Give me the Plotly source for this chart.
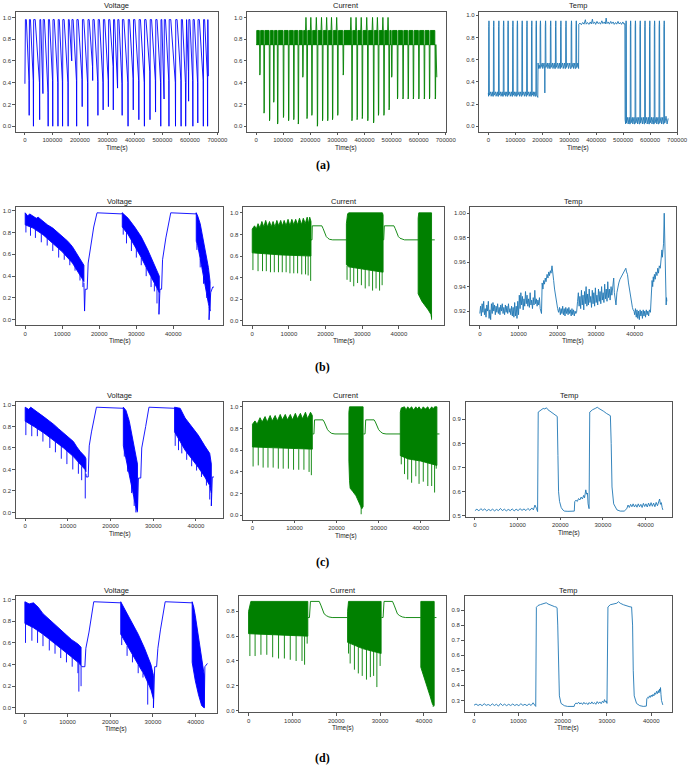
import plotly.graph_objects as go

W, H = 698, 769
C_V, C_C, C_T = "#0000ff", "#008000", "#1f77b4"

# ======================= DATA =======================
# ---------- row (a) : Voltage ----------
va_min_t = [15500, 31000, 53600, 65500, 84500, 101200, 120200, 136900, 157100, 170200,
            188100, 208300, 228600, 246400, 265500, 284500, 303600, 321400, 336900, 353600,
            375000, 394000, 414300, 434500, 454800, 475000, 494000, 506000, 523800, 547600,
            567900, 584500, 595200, 610700, 628600, 648800, 664300]
va_min_v = [0.10, 0.00, 0.06, 0.30, 0.00, 0.00, 0.00, 0.00, 0.00, 0.60,
            0.00, 0.18, 0.00, 0.42, 0.10, 0.15, 0.18, 0.15, 0.35, 0.10,
            0.00, 0.15, 0.06, 0.00, 0.06, 0.13, 0.00, 0.25, 0.00, 0.00,
            0.00, 0.00, 0.23, 0.00, 0.03, 0.00, 0.00]
va_knee_v = [0.42, 0.42, 0.40, 0.45, 0.31, 0.42, 0.40, 0.41, 0.40, 0.62,
             0.42, 0.43, 0.40, 0.55, 0.41, 0.40, 0.42, 0.55, 0.45, 0.39,
             0.40, 0.44, 0.42, 0.40, 0.50, 0.42, 0.40, 0.45, 0.42, 0.40,
             0.42, 0.40, 0.50, 0.42, 0.40, 0.42, 0.45]
va_first = (0, 0.39)
va_last = (667000, 0.46)
va_top = 0.98

# ---------- row (a) : Current ----------
ca_min_t = [14300, 29800, 50100, 65600, 79900, 101400, 120400, 139500, 156200, 172900,
            188400, 206300, 226600, 245700, 264700, 282600, 301700, 322000, 354200, 373300,
            392300, 412600, 434100, 452000, 472200, 491300, 500900, 522300, 542600, 561700,
            580800, 601000, 621300, 640400, 661800]
ca_min_v = [0.47, 0.12, 0.05, 0.22, 0.02, 0.08, 0.05, 0.06, 0.02, 0.45,
            0.07, 0.10, 0.00, 0.05, 0.05, 0.06, 0.10, 0.47, 0.05, 0.06,
            0.07, 0.05, 0.03, 0.10, 0.10, 0.15, 0.45, 0.25, 0.25, 0.25,
            0.25, 0.25, 0.25, 0.25, 0.25]
ca_peak_v = [0.88, 0.88, 0.88, 0.88, 0.88, 0.88, 0.88, 0.88, 0.88, 0.88,
             1.0, 1.0, 1.0, 1.0, 1.0, 1.0, 1.0, 0.88, 1.0, 1.0,
             1.0, 1.0, 1.0, 1.0, 1.0, 1.0, 0.88, 0.88, 0.88, 0.88,
             0.88, 0.88, 0.88, 0.88, 0.88]
ca_base, ca_band_top = 0.75, 0.88
ca_last = (667000, 0.45)

# ---------- row (a) : Temp ----------
ta_s1_peaks = [2400, 20200, 39100, 56900, 73500, 91300, 107900, 125700, 143500, 161300, 177900]
ta_s2_peaks = [193300, 212300, 231300, 250200, 269200, 288200, 308400, 326200]
ta_s4_peaks = [511000, 527800, 545600, 563400, 581200, 598900, 616700, 634500, 652300]
ta_s1_level = (0.27, 0.31)
ta_s2_level = (0.52, 0.57)
ta_s4_level = (0.02, 0.08)
ta_start = [(0, 0.30)]
ta_join12 = [(181000, 0.26), (183500, 0.26), (184500, 0.57), (186500, 0.52), (189000, 0.55)]
ta_dip = [(209200, 0.52), (209600, 0.30), (210000, 0.52)]
ta_join23 = [(329000, 0.53), (332000, 0.57), (334800, 0.52)]
ta_s3 = [(335600, 0.92), (340000, 0.93), (345000, 0.915), (350000, 0.935), (355000, 0.92),
         (360000, 0.96), (363000, 0.92), (368000, 0.935), (373000, 0.918), (378000, 0.94),
         (382000, 0.922), (386000, 0.965), (389000, 0.925), (394000, 0.94), (398000, 0.918),
         (403000, 0.945), (407000, 0.925), (412000, 0.935), (416000, 0.92), (421000, 0.95),
         (425000, 0.925), (430000, 0.94), (434000, 0.922), (437000, 0.975), (440000, 0.925),
         (445000, 0.94), (449000, 0.92), (454000, 0.945), (458000, 0.925), (463000, 0.94),
         (467000, 0.918), (472000, 0.935), (476000, 0.92), (481000, 0.945), (485000, 0.922),
         (490000, 0.935), (494000, 0.918), (499000, 0.94), (503000, 0.92), (506400, 0.925)]
ta_join34 = [(507300, 0.06), (508500, 0.03)]
ta_end = [(655000, 0.03), (659000, 0.09), (663000, 0.02), (667000, 0.07)]

# ---------- row (b) : Voltage ----------
vb_band1_up = [(0, 0.98), (700, 0.95), (1200, 0.97), (2140, 0.95), (3000, 0.93), (3500, 0.94),
               (4800, 0.90), (6000, 0.87), (7450, 0.84), (8800, 0.80), (10100, 0.77),
               (11500, 0.72), (12760, 0.67), (14000, 0.60), (14970, 0.55), (15860, 0.50)]
vb_band1_lo = [(0, 0.87), (2140, 0.84), (4800, 0.78), (7450, 0.70), (10100, 0.62),
               (12760, 0.52), (14970, 0.40), (15860, 0.35)]
vb_spk1 = [(195, 0.87, 0.80), (1430, 0.85, 0.77), (2760, 0.83, 0.75), (4350, 0.79, 0.71),
           (5950, 0.75, 0.68), (7450, 0.70, 0.63), (9040, 0.65, 0.57), (10550, 0.61, 0.55),
           (12050, 0.55, 0.50), (13470, 0.49, 0.45), (14800, 0.41, 0.36), (15590, 0.37, 0.30)]
vb_line1 = [(15860, 0.34), (16040, 0.08), (16210, 0.28), (16740, 0.28), (17010, 0.52),
            (17630, 0.65), (18510, 0.85), (19400, 0.98), (26040, 0.97), (26220, 0.98)]
vb_band2_up = [(26220, 0.98), (27810, 0.93), (29580, 0.85), (31350, 0.76), (33120, 0.64),
               (34890, 0.50), (36220, 0.40)]
vb_band2_lo = [(26220, 0.85), (27810, 0.78), (29580, 0.68), (31350, 0.57), (33120, 0.45),
               (34890, 0.33), (36220, 0.25)]
vb_spk2 = [(26480, 0.84, 0.78), (27360, 0.80, 0.70), (28690, 0.73, 0.63), (30020, 0.66, 0.57),
           (31350, 0.57, 0.50), (32680, 0.48, 0.40), (34000, 0.39, 0.30), (34890, 0.33, 0.26),
           (35600, 0.29, 0.15), (36130, 0.26, 0.05)]
vb_line2 = [(36130, 0.05), (36400, 0.28), (36840, 0.28), (37100, 0.55), (37990, 0.75),
            (39310, 0.98), (46120, 0.97), (46200, 0.98)]
vb_band3_up = [(46200, 0.98), (46600, 0.95), (47270, 0.88), (47710, 0.80), (48600, 0.66),
               (49480, 0.48), (49930, 0.35)]
vb_band3_lo = [(46200, 0.72), (46600, 0.68), (47710, 0.48), (48600, 0.33), (49480, 0.15),
               (49930, 0.08)]
vb_spk3 = [(46380, 0.70, 0.64), (47270, 0.56, 0.48), (48160, 0.40, 0.33), (49040, 0.24, 0.20),
           (49660, 0.12, 0.0)]
vb_line3 = [(49660, 0.0), (50110, 0.25), (50640, 0.30), (50990, 0.30)]

# ---------- row (b) : Current ----------
cb_band1_up = [(0, 0.85), (630, 0.88), (1100, 0.85), (1580, 0.90), (2100, 0.86), (2630, 0.92),
               (3150, 0.87), (3670, 0.93), (4190, 0.87), (4710, 0.92), (5190, 0.87), (5670, 0.92),
               (6190, 0.87), (6710, 0.93), (7230, 0.88), (7760, 0.93), (8230, 0.88), (8710, 0.93),
               (9230, 0.88), (9760, 0.94), (10280, 0.88), (10800, 0.94), (11320, 0.89),
               (11840, 0.94), (12370, 0.89), (12890, 0.95), (13410, 0.89), (13930, 0.95),
               (14450, 0.90), (14980, 0.96), (15330, 0.90), (15670, 0.96), (16020, 0.92)]
cb_band1_lo = [(0, 0.63), (8000, 0.61), (16020, 0.60)]
cb_spk1 = [(190, 0.63, 0.47), (1580, 0.63, 0.46), (2800, 0.63, 0.46), (3840, 0.62, 0.46),
           (4970, 0.62, 0.45), (6020, 0.62, 0.45), (7150, 0.62, 0.45), (8190, 0.61, 0.45),
           (9240, 0.61, 0.45), (10280, 0.61, 0.44), (11320, 0.61, 0.44), (12370, 0.61, 0.44),
           (13500, 0.61, 0.43), (14540, 0.60, 0.43), (15240, 0.60, 0.42), (15930, 0.60, 0.37)]
cb_line1 = [(16020, 0.75), (16300, 0.75), (16370, 0.88), (18980, 0.88), (19320, 0.855),
            (19760, 0.81), (20190, 0.78), (20630, 0.765), (21060, 0.755), (21930, 0.75),
            (25670, 0.75)]
cb_band2_up = [(25670, 0.90), (26000, 0.99), (26280, 1.0), (35500, 1.0), (35680, 0.98)]
cb_band2_lo = [(25670, 0.52), (26280, 0.50), (30000, 0.48), (35680, 0.45)]
cb_spk2 = [(25850, 0.51, 0.38), (26720, 0.50, 0.36), (27680, 0.50, 0.32), (28720, 0.49, 0.35),
           (29760, 0.48, 0.33), (30810, 0.48, 0.30), (31850, 0.47, 0.32), (32810, 0.47, 0.28),
           (33760, 0.46, 0.30), (34720, 0.46, 0.28), (35420, 0.45, 0.33)]
cb_line2 = [(35680, 0.75), (35850, 0.75), (36020, 0.88), (38630, 0.88), (38980, 0.855),
            (39420, 0.81), (39850, 0.78), (40290, 0.765), (40890, 0.755), (41500, 0.75),
            (45240, 0.75)]
cb_band3_up = [(45240, 0.95), (45410, 1.0), (48890, 1.0)]
cb_band3_lo = [(45240, 0.25), (45680, 0.22), (46280, 0.18), (47150, 0.14), (48020, 0.10),
               (48720, 0.06), (48890, 0.03)]
cb_spk3 = [(48890, 0.05, 0.01)]
cb_line3 = [(48980, 0.75), (49770, 0.75)]

# ---------- row (b) : Temp ----------
tb_series = [
    (0, 0.918), (200, 0.924), (400, 0.916), (600, 0.926), (800, 0.919), (1000, 0.928),
    (1200, 0.917), (1400, 0.922), (1600, 0.915), (1800, 0.925), (2000, 0.92), (2200, 0.928),
    (2400, 0.914), (2600, 0.921), (2800, 0.913), (3000, 0.926), (3200, 0.918), (3400, 0.927),
    (3600, 0.92), (3800, 0.925), (4000, 0.917), (4200, 0.924), (4400, 0.919), (4600, 0.926),
    (4800, 0.918), (5000, 0.923), (5200, 0.917), (5400, 0.925), (5600, 0.92), (5800, 0.926),
    (6000, 0.918), (6200, 0.923), (6400, 0.917), (6600, 0.925), (6800, 0.919), (7000, 0.924),
    (7200, 0.918), (7400, 0.926), (7600, 0.919), (7800, 0.922), (8000, 0.917), (8200, 0.924),
    (8400, 0.916), (8600, 0.923), (8800, 0.915), (9000, 0.927), (9200, 0.916), (9400, 0.924),
    (9600, 0.914), (9800, 0.928), (10000, 0.917), (10200, 0.933), (10400, 0.922),
    (10600, 0.935), (10800, 0.925), (11000, 0.932), (11200, 0.921), (11400, 0.93),
    (11600, 0.924), (11800, 0.936), (12000, 0.926), (12200, 0.933), (12400, 0.924),
    (12600, 0.93), (12800, 0.923), (13000, 0.935), (13200, 0.925), (13400, 0.929),
    (13600, 0.922), (13800, 0.931), (14000, 0.925), (14200, 0.937), (14400, 0.926),
    (14600, 0.93), (14800, 0.924), (15000, 0.929), (15200, 0.925), (15400, 0.931),
    (15600, 0.922), (15800, 0.919), (15930, 0.918), (16100, 0.943), (16300, 0.938),
    (16500, 0.945), (16700, 0.942), (16900, 0.947), (17100, 0.944), (17370, 0.95),
    (17600, 0.947), (17800, 0.952), (18000, 0.949), (18220, 0.953), (18400, 0.951),
    (18645, 0.957), (18800, 0.95), (19070, 0.945), (19300, 0.938), (19490, 0.933),
    (19700, 0.928), (19920, 0.924), (20100, 0.922), (20340, 0.919), (20600, 0.923),
    (20800, 0.917), (21000, 0.922), (21200, 0.918), (21400, 0.924), (21600, 0.917),
    (21800, 0.922), (22000, 0.916), (22200, 0.923), (22400, 0.918), (22600, 0.922),
    (22800, 0.917), (23000, 0.923), (23200, 0.918), (23400, 0.921), (23600, 0.916),
    (23800, 0.922), (24000, 0.917), (24200, 0.921), (24400, 0.916), (24600, 0.92),
    (24800, 0.918), (25000, 0.919), (25250, 0.928), (25450, 0.935), (25650, 0.924),
    (25850, 0.932), (26050, 0.922), (26250, 0.937), (26450, 0.925), (26650, 0.933),
    (26850, 0.921), (27050, 0.936), (27250, 0.926), (27450, 0.94), (27650, 0.924),
    (27850, 0.934), (28050, 0.925), (28250, 0.938), (28450, 0.927), (28650, 0.932),
    (28850, 0.923), (29050, 0.937), (29250, 0.926), (29450, 0.935), (29650, 0.924),
    (29850, 0.939), (30050, 0.927), (30250, 0.933), (30450, 0.925), (30650, 0.938),
    (30850, 0.928), (31050, 0.936), (31250, 0.926), (31450, 0.94), (31650, 0.929),
    (31850, 0.935), (32050, 0.927), (32250, 0.942), (32450, 0.93), (32650, 0.938),
    (32850, 0.928), (33050, 0.944), (33250, 0.931), (33450, 0.938), (33650, 0.929),
    (33900, 0.94), (34100, 0.933), (34350, 0.945), (34580, 0.947), (34750, 0.935),
    (35000, 0.928), (35170, 0.925), (35400, 0.935), (35600, 0.94), (35900, 0.943),
    (36200, 0.946), (36500, 0.948), (36870, 0.95), (37100, 0.952), (37400, 0.954),
    (37710, 0.955), (37900, 0.952), (38140, 0.95), (38400, 0.943), (38700, 0.936),
    (38980, 0.93), (39200, 0.925), (39410, 0.923), (39600, 0.921), (39830, 0.92),
    (40000, 0.917), (40200, 0.922), (40400, 0.915), (40600, 0.921), (40800, 0.914),
    (41000, 0.92), (41200, 0.913), (41400, 0.921), (41600, 0.916), (41800, 0.92),
    (42000, 0.914), (42200, 0.921), (42400, 0.916), (42600, 0.92), (42800, 0.915),
    (43000, 0.921), (43200, 0.917), (43400, 0.92), (43600, 0.916), (43800, 0.921),
    (44070, 0.919), (44300, 0.935), (44490, 0.945), (44650, 0.94), (44800, 0.948),
    (44920, 0.944), (45100, 0.95), (45300, 0.946), (45500, 0.952), (45765, 0.949),
    (45950, 0.955), (46150, 0.951), (46350, 0.957), (46610, 0.955), (46800, 0.962),
    (47035, 0.97), (47150, 0.964), (47290, 0.968), (47450, 0.975), (47630, 1.0),
    (47750, 0.975), (47880, 0.96), (48000, 0.94), (48130, 0.925), (48220, 0.931),
    (48300, 0.928)]

# ---------- row (c) : Voltage ----------
vc_band1_up = [(0, 0.98), (800, 0.96), (1300, 0.98), (2080, 0.96), (3000, 0.93), (4380, 0.89),
               (5500, 0.86), (6690, 0.82), (7800, 0.78), (9000, 0.74), (10100, 0.70),
               (11300, 0.66), (12100, 0.61), (12840, 0.57), (14000, 0.52), (14230, 0.50)]
vc_band1_lo = [(0, 0.85), (2080, 0.80), (4380, 0.74), (6690, 0.67), (9000, 0.60), (11300, 0.52),
               (12840, 0.45), (14000, 0.40), (14230, 0.38)]
vc_spk1 = [(154, 0.85, 0.72), (1540, 0.82, 0.71), (2850, 0.79, 0.71), (4150, 0.75, 0.66),
           (5770, 0.71, 0.60), (7080, 0.66, 0.56), (8460, 0.62, 0.50), (9770, 0.58, 0.45),
           (11150, 0.53, 0.40), (12460, 0.47, 0.36), (13230, 0.43, 0.30), (14070, 0.40, 0.13)]
vc_line1 = [(14230, 0.36), (14300, 0.33), (14760, 0.33), (15000, 0.62), (15530, 0.75),
            (16690, 0.98), (22990, 0.97)]
vc_band2_up = [(22990, 0.98), (23610, 0.95), (24380, 0.85), (25150, 0.70), (25920, 0.55),
               (26300, 0.45)]
vc_band2_lo = [(22990, 0.62), (23610, 0.50), (24380, 0.35), (25150, 0.20), (25920, 0.05),
               (26300, 0.01)]
vc_spk2 = [(23220, 0.60, 0.52), (23990, 0.45, 0.38), (24920, 0.26, 0.18), (25530, 0.14, 0.06),
           (25920, 0.06, 0.0), (26220, 0.03, 0.0)]
vc_line2 = [(26300, 0.01), (26530, 0.32), (27070, 0.32), (27300, 0.60), (28220, 0.80),
            (28990, 0.98), (34990, 0.97)]
vc_band3_up = [(34990, 0.98), (36300, 0.97), (37450, 0.88), (38990, 0.80), (40530, 0.72),
               (42060, 0.62), (43220, 0.55), (43600, 0.45)]
vc_band3_lo = [(34990, 0.75), (36300, 0.66), (37450, 0.58), (38990, 0.50), (40530, 0.42),
               (42060, 0.33), (43220, 0.25), (43600, 0.18)]
vc_spk3 = [(35140, 0.75, 0.62), (35910, 0.69, 0.58), (36680, 0.64, 0.55), (37830, 0.56, 0.49),
           (38990, 0.50, 0.43), (40140, 0.44, 0.39), (41290, 0.38, 0.33), (42450, 0.31, 0.25),
           (43220, 0.25, 0.12), (43600, 0.18, 0.06)]
vc_line3 = [(43600, 0.06), (43830, 0.33), (44220, 0.33)]

# ---------- row (c) : Current ----------
cc_band1_up = [(0, 0.84), (600, 0.87), (1100, 0.84), (1800, 0.90), (2300, 0.86), (3000, 0.91),
               (3500, 0.86), (4200, 0.92), (4700, 0.87), (5400, 0.92), (5900, 0.87), (6600, 0.93),
               (7100, 0.88), (7800, 0.93), (8300, 0.88), (9000, 0.93), (9500, 0.88), (10200, 0.94),
               (10700, 0.89), (11400, 0.94), (11900, 0.89), (12600, 0.95), (13100, 0.89),
               (13800, 0.95), (14230, 0.92)]
cc_band1_lo = [(0, 0.63), (7000, 0.62), (14230, 0.61)]
cc_spk1 = [(154, 0.63, 0.45), (1380, 0.63, 0.46), (2540, 0.63, 0.44), (3690, 0.62, 0.44),
           (4920, 0.62, 0.44), (6150, 0.62, 0.43), (7310, 0.62, 0.43), (8540, 0.62, 0.43),
           (9770, 0.62, 0.42), (11000, 0.61, 0.42), (12230, 0.61, 0.42), (13460, 0.61, 0.40),
           (14000, 0.61, 0.37)]
cc_line1 = [(14300, 0.75), (14610, 0.75), (14760, 0.88), (16760, 0.88), (17070, 0.86),
            (17460, 0.82), (17840, 0.79), (18300, 0.77), (18840, 0.755), (19610, 0.75),
            (22920, 0.75)]
cc_band2_up = [(22920, 0.95), (23070, 1.0), (26300, 1.0)]
cc_band2_lo = [(22920, 0.50), (23070, 0.32), (23220, 0.25), (23840, 0.22), (24610, 0.18),
               (25380, 0.12), (25990, 0.06), (26300, 0.08)]
cc_spk2 = [(25840, 0.08, 0.01)]
cc_line2 = [(26380, 0.75), (26760, 0.75), (26920, 0.88), (28910, 0.88), (29220, 0.86),
            (29610, 0.82), (29990, 0.79), (30450, 0.77), (30990, 0.755), (31760, 0.75),
            (35140, 0.75)]
cc_band3_up = [(35140, 0.95), (35370, 0.99), (36140, 1.0), (36500, 0.97), (36910, 1.0),
               (37300, 0.98), (37830, 1.0), (38300, 0.97), (38830, 1.0), (39200, 0.98),
               (39600, 1.0), (40100, 0.97), (40600, 1.0), (41100, 0.98), (41680, 1.0),
               (42100, 0.97), (42600, 1.0), (43000, 0.98), (43290, 1.0), (43840, 1.0)]
cc_band3_lo = [(35140, 0.55), (37000, 0.52), (40000, 0.50), (43840, 0.46)]
cc_spk3 = [(35370, 0.55, 0.47), (36140, 0.54, 0.38), (36910, 0.53, 0.33), (37830, 0.52, 0.30),
           (38830, 0.52, 0.36), (39600, 0.51, 0.29), (40600, 0.50, 0.31), (41680, 0.49, 0.27),
           (42600, 0.48, 0.27), (43290, 0.47, 0.21), (43680, 0.47, 0.43)]
cc_line3 = [(43840, 0.75), (44450, 0.75)]

# ---------- row (c) : Temp ----------
tc_series = [
    (0, 0.522), (460, 0.528), (920, 0.521), (1380, 0.53), (1840, 0.523), (2300, 0.529),
    (2760, 0.521), (3220, 0.527), (3680, 0.522), (4140, 0.528), (4600, 0.521), (5060, 0.527),
    (5520, 0.522), (5980, 0.531), (6440, 0.522), (6900, 0.528), (7360, 0.521), (7820, 0.527),
    (8280, 0.522), (8740, 0.529), (9200, 0.521), (9660, 0.528), (10120, 0.522), (10580, 0.53),
    (11040, 0.523), (11500, 0.529), (11960, 0.522), (12420, 0.531), (12880, 0.523),
    (13340, 0.533), (13700, 0.525), (14070, 0.545), (14460, 0.53), (14690, 0.518),
    (14840, 0.93), (15200, 0.935), (15600, 0.94), (15990, 0.945), (16400, 0.943),
    (16760, 0.948), (17100, 0.94), (17500, 0.935), (18000, 0.93), (18500, 0.922),
    (19070, 0.915), (19300, 0.912), (19460, 0.75), (19610, 0.60), (19840, 0.56),
    (20220, 0.535), (20600, 0.525), (20990, 0.52), (21800, 0.519), (22600, 0.52),
    (23300, 0.52), (23400, 0.56), (23700, 0.565), (24000, 0.56), (24300, 0.572),
    (24600, 0.566), (24900, 0.578), (25200, 0.57), (25500, 0.585), (25700, 0.575),
    (25990, 0.608), (26200, 0.59), (26380, 0.595), (26530, 0.55), (26760, 0.53),
    (26920, 0.93), (27150, 0.935), (27600, 0.94), (28200, 0.945), (28680, 0.95),
    (29070, 0.945), (29600, 0.94), (30200, 0.933), (30800, 0.925), (31300, 0.92),
    (31760, 0.915), (31950, 0.8), (32140, 0.62), (32530, 0.55), (33000, 0.53),
    (33300, 0.525), (34070, 0.52), (35000, 0.52), (35610, 0.53), (35900, 0.545),
    (36200, 0.535), (36500, 0.548), (36800, 0.538), (37100, 0.55), (37400, 0.537),
    (37700, 0.547), (38000, 0.536), (38300, 0.55), (38600, 0.538), (38900, 0.548),
    (39200, 0.535), (39500, 0.552), (39800, 0.539), (40100, 0.55), (40400, 0.537),
    (40700, 0.553), (41000, 0.54), (41300, 0.555), (41600, 0.54), (41900, 0.553),
    (42200, 0.538), (42500, 0.556), (42800, 0.542), (43100, 0.56), (43300, 0.57),
    (43500, 0.548), (43700, 0.555), (43900, 0.535), (44060, 0.525)]

# ---------- row (d) : Voltage ----------
vd_band1_up = [(0, 0.98), (1000, 0.96), (2010, 0.97), (3120, 0.93), (4240, 0.87), (5300, 0.83),
               (6470, 0.79), (7600, 0.75), (8700, 0.71), (9800, 0.67), (10930, 0.63),
               (12420, 0.59), (13160, 0.56)]
vd_band1_lo = [(0, 0.78), (2010, 0.74), (4240, 0.68), (6470, 0.61), (8700, 0.54), (10930, 0.47),
               (12420, 0.42), (13160, 0.39)]
vd_spk1 = [(149, 0.78, 0.60), (1640, 0.75, 0.62), (2970, 0.72, 0.60), (4240, 0.68, 0.57),
           (5720, 0.63, 0.53), (7060, 0.59, 0.50), (8400, 0.55, 0.46), (9740, 0.51, 0.42),
           (11080, 0.47, 0.38), (12420, 0.42, 0.32), (12640, 0.41, 0.15), (13160, 0.39, 0.20)]
vd_line1 = [(13160, 0.39), (13380, 0.38), (14050, 0.38), (14280, 0.55), (15020, 0.70),
            (16130, 0.98), (22450, 0.97)]
vd_band2_up = [(22450, 0.98), (23570, 0.90), (25060, 0.80), (26540, 0.68), (28030, 0.55),
               (29520, 0.40), (30110, 0.30)]
vd_band2_lo = [(22450, 0.68), (23570, 0.60), (25060, 0.50), (26540, 0.40), (28030, 0.30),
               (29520, 0.17), (30110, 0.08)]
vd_spk2 = [(22680, 0.66, 0.58), (23940, 0.57, 0.48), (25200, 0.49, 0.42), (26540, 0.40, 0.32),
           (27660, 0.32, 0.28), (28770, 0.25, 0.03), (29370, 0.19, 0.17), (30110, 0.08, 0.0)]
vd_line2 = [(30110, 0.0), (30410, 0.38), (30850, 0.38), (31150, 0.55), (31750, 0.72),
            (32860, 0.98), (39180, 0.97)]
vd_band3_up = [(39180, 0.98), (39550, 0.93), (39920, 0.85), (40670, 0.65), (41410, 0.45),
               (42010, 0.30)]
vd_band3_lo = [(39180, 0.42), (39920, 0.25), (40670, 0.12), (41410, 0.02), (42010, 0.0)]
vd_spk3 = []
vd_line3 = [(42010, 0.0), (42160, 0.38), (42750, 0.41)]

# ---------- row (d) : Current ----------
cd_band1_up = [(0, 0.80), (520, 0.88), (13520, 0.88)]
cd_band1_lo = [(0, 0.62), (13520, 0.60)]
cd_spk1 = [(300, 0.62, 0.44), (1490, 0.62, 0.44), (2820, 0.62, 0.45), (4160, 0.62, 0.45),
           (5500, 0.61, 0.43), (6840, 0.61, 0.42), (8170, 0.61, 0.42), (9510, 0.61, 0.41),
           (10850, 0.61, 0.40), (12190, 0.60, 0.40), (12780, 0.60, 0.37), (13370, 0.60, 0.54)]
cd_line1 = [(13520, 0.75), (13890, 0.75), (14120, 0.88), (16120, 0.88), (16490, 0.85),
            (16870, 0.81), (17240, 0.78), (17760, 0.765), (18320, 0.755), (19060, 0.75),
            (22590, 0.75)]
cd_band2_up = [(22590, 0.80), (22810, 0.88), (30240, 0.88)]
cd_band2_lo = [(22590, 0.55), (26000, 0.50), (30240, 0.46)]
cd_spk2 = [(22810, 0.55, 0.46), (23180, 0.55, 0.38), (24150, 0.54, 0.33), (25040, 0.52, 0.30),
           (25930, 0.50, 0.28), (26900, 0.50, 0.25), (27790, 0.49, 0.27), (28530, 0.48, 0.28),
           (29270, 0.47, 0.19), (30020, 0.46, 0.36)]
cd_line2 = [(30310, 0.75), (30690, 0.75), (30910, 0.88), (32840, 0.88), (33210, 0.85),
            (33580, 0.81), (33960, 0.78), (34480, 0.765), (35070, 0.755), (35810, 0.75),
            (39300, 0.75)]
cd_band3_up = [(39300, 0.88), (42350, 0.88)]
cd_band3_lo = [(39300, 0.35), (39900, 0.28), (40640, 0.20), (41390, 0.12), (41980, 0.05),
               (42350, 0.04)]
cd_spk3 = [(42130, 0.05, 0.03)]
cd_line3 = [(42350, 0.75), (42870, 0.75)]

# ---------- row (d) : Temp ----------
td_series = [
    (0, 0.268), (460, 0.276), (920, 0.266), (1380, 0.274), (1840, 0.265), (2300, 0.278),
    (2760, 0.267), (3220, 0.273), (3680, 0.265), (4140, 0.277), (4600, 0.266), (5060, 0.274),
    (5520, 0.262), (5980, 0.279), (6440, 0.266), (6900, 0.275), (7360, 0.265), (7820, 0.274),
    (8280, 0.266), (8740, 0.276), (9200, 0.266), (9660, 0.273), (10120, 0.265), (10580, 0.278),
    (11040, 0.267), (11500, 0.274), (11960, 0.265), (12420, 0.277), (12880, 0.266),
    (13340, 0.284), (13710, 0.268), (13930, 0.26), (14080, 0.918), (14450, 0.93),
    (15000, 0.936), (15560, 0.94), (16000, 0.945), (16300, 0.948), (16700, 0.94),
    (17040, 0.935), (17400, 0.93), (17780, 0.925), (18200, 0.922), (18530, 0.92),
    (18750, 0.915), (18900, 0.80), (19040, 0.50), (19270, 0.33), (19640, 0.28),
    (20380, 0.265), (21100, 0.26), (21860, 0.258), (22600, 0.26), (22750, 0.275),
    (23000, 0.282), (23340, 0.278), (23600, 0.288), (23900, 0.276), (24200, 0.284),
    (24500, 0.273), (24800, 0.287), (25100, 0.276), (25400, 0.283), (25700, 0.272),
    (26000, 0.286), (26300, 0.276), (26600, 0.29), (26900, 0.277), (27200, 0.285),
    (27500, 0.274), (27800, 0.292), (28100, 0.279), (28400, 0.29), (28700, 0.278),
    (29000, 0.295), (29270, 0.285), (29450, 0.305), (29640, 0.29), (29850, 0.296),
    (30010, 0.28), (30230, 0.92), (30750, 0.935), (31500, 0.94), (32230, 0.945),
    (32600, 0.955), (33000, 0.945), (33720, 0.935), (34300, 0.928), (34830, 0.925),
    (35200, 0.921), (35570, 0.92), (35790, 0.80), (35940, 0.50), (36160, 0.33),
    (36680, 0.28), (37420, 0.265), (38200, 0.26), (38900, 0.262), (39000, 0.31),
    (39200, 0.32), (39400, 0.315), (39600, 0.33), (39800, 0.32), (40000, 0.335),
    (40200, 0.325), (40400, 0.34), (40600, 0.33), (40800, 0.35), (41000, 0.34),
    (41200, 0.36), (41400, 0.345), (41600, 0.365), (41750, 0.35), (41870, 0.375),
    (42000, 0.36), (42090, 0.385), (42200, 0.34), (42310, 0.30), (42610, 0.27)]

# ---------- ticks ----------
xt_a = [0, 100000, 200000, 300000, 400000, 500000, 600000, 700000]
xt_a_lbl = ["0", "100000", "200000", "300000", "400000", "500000", "600000", "700000"]
xt_s = [0, 10000, 20000, 30000, 40000]
xt_s_lbl = ["0", "10000", "20000", "30000", "40000"]
yt_01 = [0.0, 0.2, 0.4, 0.6, 0.8, 1.0]
yt_01_lbl = ["0.0", "0.2", "0.4", "0.6", "0.8", "1.0"]
yt_08 = [0.0, 0.2, 0.4, 0.6, 0.8]
yt_08_lbl = ["0.0", "0.2", "0.4", "0.6", "0.8"]
yt_tb = [0.92, 0.94, 0.96, 0.98, 1.00]
yt_tb_lbl = ["0.92", "0.94", "0.96", "0.98", "1.00"]
yt_tc = [0.5, 0.6, 0.7, 0.8, 0.9]
yt_tc_lbl = ["0.5", "0.6", "0.7", "0.8", "0.9"]
yt_td = [0.3, 0.4, 0.5, 0.6, 0.7, 0.8, 0.9]
yt_td_lbl = ["0.3", "0.4", "0.5", "0.6", "0.7", "0.8", "0.9"]
row_labels = ["(a)", "(b)", "(c)", "(d)"]


# ======================= BUILDERS =======================
def unzip(pts):
    return [p[0] for p in pts], [p[1] for p in pts]


def build_va():
    t, v = [va_first[0]], [va_first[1]]
    prev = va_first[0]
    for i, (tm, vm, kn) in enumerate(zip(va_min_t, va_min_v, va_knee_v)):
        rise = prev + (1800 if i == 0 else 900)
        plat = rise + 0.25 * (tm - rise)
        t += [rise, plat, tm - 700, tm]
        v += [va_top, va_top, kn, vm]
        prev = tm
    t += [prev + 900, va_last[0]]
    v += [va_top, va_last[1]]
    return t, v


def build_ca():
    lt, lv = [0], [ca_base]
    bt, bv = [], []
    pt, pv = [], []
    prev = 0
    for tm, vm, pk in zip(ca_min_t, ca_min_v, ca_peak_v):
        lt += [tm - 1500, tm - 500, tm + 500, tm + 1500]
        lv += [ca_base, vm, vm + 0.02, ca_base]
        left, right = prev + 2500, tm - 2200
        bt += [left, left, right, right, left, None]
        bv += [ca_base, ca_band_top, ca_band_top, ca_base, ca_base, None]
        if pk > ca_band_top:
            pt += [tm - 6000, tm - 4300, tm - 2600, None]
            pv += [ca_band_top, pk, ca_band_top, None]
        prev = tm
    lt += [ca_last[0]]
    lv += [ca_last[1]]
    return (lt, lv), (bt, bv), (pt, pv)


def temp_cycles(peaks, level):
    low, bump = level
    t, v = [], []
    for i, pk in enumerate(peaks):
        t += [pk - 1500, pk - 1000, pk, pk + 700, pk + 1500]
        v += [low, 0.90, 0.95, 0.92, low + 0.01]
        if i + 1 < len(peaks):
            g = peaks[i + 1] - pk
            t += [pk + 0.35 * g, pk + 0.45 * g, pk + 0.7 * g, pk + 0.8 * g]
            v += [bump, low, bump, low]
    return t, v


def build_ta():
    t, v = unzip(ta_start)
    for part in (temp_cycles(ta_s1_peaks, ta_s1_level), unzip(ta_join12),
                 temp_cycles(ta_s2_peaks, ta_s2_level), unzip(ta_join23), unzip(ta_s3),
                 unzip(ta_join34), temp_cycles(ta_s4_peaks, ta_s4_level), unzip(ta_end)):
        t += list(part[0])
        v += list(part[1])
    return t, v


def bands_xy(bands):
    xs, ys = [], []
    for up, lo in bands:
        ut, uv = unzip(up)
        lt, lv = unzip(lo)
        xs += ut + lt[::-1] + [ut[0], None]
        ys += uv + lv[::-1] + [uv[0], None]
    return xs, ys


def spikes_xy(spks):
    xs, ys = [], []
    for t, a, b in spks:
        xs += [t, t, None]
        ys += [a, b, None]
    return xs, ys


def lines_xy(lines):
    xs, ys = [], []
    for ln in lines:
        t, v = unzip(ln)
        xs += t + [None]
        ys += v + [None]
    return xs, ys


# ======================= PANELS =======================
panels = [
    dict(box=(16, 221, 12, 132), xr=(-33350, 700350), yr=(-0.05, 1.05), xt=(xt_a, xt_a_lbl),
         yt=(yt_01, yt_01_lbl), title="Voltage", color=C_V, kind="va"),
    dict(box=(251, 453, 12, 132), xr=(-33350, 700350), yr=(-0.05, 1.05), xt=(xt_a, xt_a_lbl),
         yt=(yt_01, yt_01_lbl), title="Current", color=C_C, kind="ca"),
    dict(box=(487, 688, 12, 132), xr=(-33350, 700350), yr=(-0.049, 1.03), xt=(xt_a, xt_a_lbl),
         yt=(yt_01, yt_01_lbl), title="Temp", color=C_T, kind="ta"),
    dict(box=(16, 227, 208, 326), xr=(-2550, 53540), yr=(-0.049, 1.029), xt=(xt_s, xt_s_lbl),
         yt=(yt_01, yt_01_lbl), title="Voltage", color=C_V, kind="band",
         bands=[(vb_band1_up, vb_band1_lo), (vb_band2_up, vb_band2_lo), (vb_band3_up, vb_band3_lo)],
         spikes=vb_spk1 + vb_spk2 + vb_spk3, lines=[vb_line1, vb_line2, vb_line3]),
    dict(box=(247, 451, 208, 326), xr=(-2490, 52260), yr=(-0.04, 1.05), xt=(xt_s, xt_s_lbl),
         yt=(yt_01, yt_01_lbl), title="Current", color=C_C, kind="band",
         bands=[(cb_band1_up, cb_band1_lo), (cb_band2_up, cb_band2_lo), (cb_band3_up, cb_band3_lo)],
         spikes=cb_spk1 + cb_spk2 + cb_spk3, lines=[cb_line1, cb_line2, cb_line3]),
    dict(box=(478, 687, 208, 326), xr=(-2415, 50715), yr=(0.9085, 1.0047), xt=(xt_s, xt_s_lbl),
         yt=(yt_tb, yt_tb_lbl), title="Temp", color=C_T, kind="series", series=tb_series),
    dict(box=(16, 227, 403, 519), xr=(-2211, 46431), yr=(-0.049, 1.029), xt=(xt_s, xt_s_lbl),
         yt=(yt_01, yt_01_lbl), title="Voltage", color=C_V, kind="band",
         bands=[(vc_band1_up, vc_band1_lo), (vc_band2_up, vc_band2_lo), (vc_band3_up, vc_band3_lo)],
         spikes=vc_spk1 + vc_spk2 + vc_spk3, lines=[vc_line1, vc_line2, vc_line3]),
    dict(box=(247, 456, 403, 521), xr=(-2222, 46672), yr=(-0.04, 1.045), xt=(xt_s, xt_s_lbl),
         yt=(yt_01, yt_01_lbl), title="Current", color=C_C, kind="band",
         bands=[(cc_band1_up, cc_band1_lo), (cc_band2_up, cc_band2_lo), (cc_band3_up, cc_band3_lo)],
         spikes=cc_spk1 + cc_spk2 + cc_spk3, lines=[cc_line1, cc_line2, cc_line3]),
    dict(box=(473, 683, 403, 518), xr=(-2203, 46263), yr=(0.497, 0.972), xt=(xt_s, xt_s_lbl),
         yt=(yt_tc, yt_tc_lbl), title="Temp", color=C_T, kind="series", series=tc_series),
    dict(box=(16, 220, 598, 715), xr=(-2138, 44888), yr=(-0.049, 1.029), xt=(xt_s, xt_s_lbl),
         yt=(yt_01, yt_01_lbl), title="Voltage", color=C_V, kind="band",
         bands=[(vd_band1_up, vd_band1_lo), (vd_band2_up, vd_band2_lo), (vd_band3_up, vd_band3_lo)],
         spikes=vd_spk1 + vd_spk2 + vd_spk3, lines=[vd_line1, vd_line2, vd_line3]),
    dict(box=(243, 453, 598, 714), xr=(-2144, 45014), yr=(-0.012, 0.92), xt=(xt_s, xt_s_lbl),
         yt=(yt_08, yt_08_lbl), title="Current", color=C_C, kind="band",
         bands=[(cd_band1_up, cd_band1_lo), (cd_band2_up, cd_band2_lo), (cd_band3_up, cd_band3_lo)],
         spikes=cd_spk1 + cd_spk2 + cd_spk3, lines=[cd_line1, cd_line2, cd_line3]),
    dict(box=(472, 683, 598, 714), xr=(-2130, 44740), yr=(0.222, 0.99), xt=(xt_s, xt_s_lbl),
         yt=(yt_td, yt_td_lbl), title="Temp", color=C_T, kind="series", series=td_series),
]

fig = go.Figure()
LW = 0.9
FONT = "Liberation Sans Narrow, Liberation Sans, Arial, sans-serif"
annotations = []

for i, p in enumerate(panels):
    n = i + 1
    xa, ya = ("x%d" % n if n > 1 else "x"), ("y%d" % n if n > 1 else "y")
    col = p["color"]
    k = p["kind"]
    if k == "va":
        t, v = build_va()
        fig.add_trace(go.Scatter(x=t, y=v, mode="lines", line=dict(color=col, width=LW),
                                 xaxis=xa, yaxis=ya, hoverinfo="skip"))
    elif k == "ca":
        (lt, lv), (bt, bv), (pt, pv) = build_ca()
        fig.add_trace(go.Scatter(x=bt, y=bv, mode="lines", fill="toself", fillcolor=col,
                                 line=dict(color=col, width=LW), xaxis=xa, yaxis=ya,
                                 hoverinfo="skip"))
        fig.add_trace(go.Scatter(x=pt, y=pv, mode="lines", line=dict(color=col, width=LW),
                                 xaxis=xa, yaxis=ya, hoverinfo="skip"))
        fig.add_trace(go.Scatter(x=lt, y=lv, mode="lines", line=dict(color=col, width=LW),
                                 xaxis=xa, yaxis=ya, hoverinfo="skip"))
    elif k == "ta":
        t, v = build_ta()
        fig.add_trace(go.Scatter(x=t, y=v, mode="lines", line=dict(color=col, width=LW),
                                 xaxis=xa, yaxis=ya, hoverinfo="skip"))
        dt, dv = unzip(ta_dip)
        fig.add_trace(go.Scatter(x=dt, y=dv, mode="lines", line=dict(color=col, width=LW),
                                 xaxis=xa, yaxis=ya, hoverinfo="skip"))
    elif k == "band":
        bx, by = bands_xy(p["bands"])
        fig.add_trace(go.Scatter(x=bx, y=by, mode="lines", fill="toself", fillcolor=col,
                                 line=dict(color=col, width=LW), xaxis=xa, yaxis=ya,
                                 hoverinfo="skip"))
        sx, sy = spikes_xy(p["spikes"])
        fig.add_trace(go.Scatter(x=sx, y=sy, mode="lines", line=dict(color=col, width=LW),
                                 xaxis=xa, yaxis=ya, hoverinfo="skip"))
        lx, ly = lines_xy(p["lines"])
        fig.add_trace(go.Scatter(x=lx, y=ly, mode="lines", line=dict(color=col, width=LW),
                                 xaxis=xa, yaxis=ya, hoverinfo="skip"))
    else:
        t, v = unzip(p["series"])
        fig.add_trace(go.Scatter(x=t, y=v, mode="lines", line=dict(color=col, width=LW),
                                 xaxis=xa, yaxis=ya, hoverinfo="skip"))

    x0, x1, y0, y1 = p["box"]
    common = dict(showline=True, mirror=True, linecolor="#555", linewidth=1, ticks="outside",
                  ticklen=2.5, tickwidth=0.8, tickcolor="#555", showgrid=False, zeroline=False,
                  tickfont=dict(size=6, color="#333", family=FONT), fixedrange=True)
    fig.layout["xaxis%s" % (n if n > 1 else "")] = dict(
        domain=[x0 / W, x1 / W], anchor=ya, range=list(p["xr"]), tickmode="array",
        tickvals=p["xt"][0], ticktext=p["xt"][1], **common)
    fig.layout["yaxis%s" % (n if n > 1 else "")] = dict(
        domain=[1 - y1 / H, 1 - y0 / H], anchor=xa, range=list(p["yr"]), tickmode="array",
        tickvals=p["yt"][0], ticktext=p["yt"][1], **common)
    cx = (x0 + x1) / 2 / W
    annotations.append(dict(text=p["title"], x=cx, y=1 - (y0 - 6) / H, xref="paper", yref="paper",
                            showarrow=False, xanchor="center", yanchor="middle",
                            font=dict(size=7.5, color="#222", family=FONT)))
    annotations.append(dict(text="Time(s)", x=cx, y=1 - (y1 + 16) / H, xref="paper",
                            yref="paper", showarrow=False, xanchor="center", yanchor="middle",
                            font=dict(size=6.5, color="#222", family=FONT)))

label_y = [165, 368, 563, 760]
for lbl, ly in zip(row_labels, label_y):
    annotations.append(dict(text="<b>%s</b>" % lbl, x=328 / W, y=1 - ly / H, xref="paper",
                            yref="paper", showarrow=False, xanchor="center", yanchor="middle",
                            font=dict(size=12, color="#000", family="Liberation Serif")))

fig.update_layout(width=W, height=H, margin=dict(l=0, r=0, t=0, b=0), showlegend=False,
                  paper_bgcolor="white", plot_bgcolor="white", annotations=annotations)
fig.write_html("out.html")
